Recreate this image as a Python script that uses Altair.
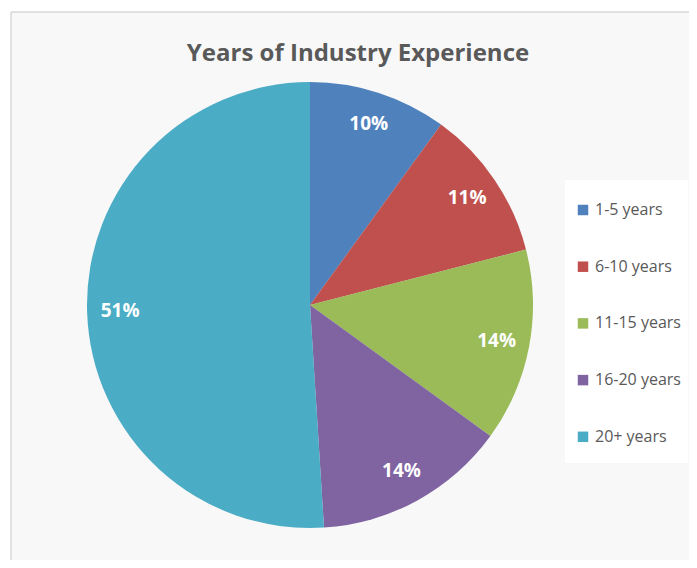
import altair as alt
import pandas as pd

categories = ["1-5 years", "6-10 years", "11-15 years", "16-20 years", "20+ years"]
values = [10, 11, 14, 14, 51]
labels = ["10%", "11%", "14%", "14%", "51%"]
colors = ["#4F81BD", "#C0504D", "#9BBB59", "#8064A2", "#4BACC6"]

df = pd.DataFrame({"category": categories, "value": values, "label": labels,
                   "order": list(range(len(categories)))})

W, H = 678, 548
CX, CY, R = 299, 293, 223

base = alt.Chart(df)

color = alt.Color("category:N",
                  scale=alt.Scale(domain=categories, range=colors),
                  sort=categories,
                  legend=alt.Legend(title=None, orient="none", legendX=564, legendY=190,
                                    symbolType="square", symbolSize=110,
                                    symbolStrokeWidth=0,
                                    labelFontSize=16, labelColor="#595959",
                                    labelFont="Open Sans", labelOffset=4,
                                    rowPadding=40.7, padding=0))

one = pd.DataFrame({"v": [1]})
shadow1 = alt.Chart(one).mark_circle(x=CX, y=CY, size=3.1416 * (R + 7) ** 2,
                                     color="#000000", opacity=0.03)
shadow2 = alt.Chart(one).mark_circle(x=CX, y=CY, size=3.1416 * (R + 3.5) ** 2,
                                     color="#000000", opacity=0.04)

pie = base.mark_arc(x=CX, y=CY, outerRadius=R).encode(
    theta=alt.Theta("value:Q", stack=True),
    color=color,
    order=alt.Order("order:Q"),
)

text = base.mark_text(x=CX, y=CY, radius=190, fontSize=19, fontWeight="bold",
                      font="Open Sans", color="white").encode(
    theta=alt.Theta("value:Q", stack=True),
    order=alt.Order("order:Q"),
    text="label:N",
)

legend_box = alt.Chart(one).mark_rect(color="white").encode(
    x=alt.value(554), x2=alt.value(677), y=alt.value(168), y2=alt.value(451))

border_left = alt.Chart(one).mark_rule(color="#d9d9d9", strokeWidth=1.5).encode(
    x=alt.value(0), y=alt.value(0), y2=alt.value(H))
border_top = alt.Chart(one).mark_rule(color="#d9d9d9", strokeWidth=1.5).encode(
    y=alt.value(0), x=alt.value(0), x2=alt.value(W))

title = alt.Chart(one).mark_text(text="Years of Industry Experience", fontSize=24,
                                 fontWeight="bold", font="Open Sans",
                                 color="#595959", baseline="alphabetic").encode(
    x=alt.value(347), y=alt.value(49))

chart = alt.layer(shadow1, shadow2, pie, text, legend_box, title,
                  border_left, border_top).properties(
    width=W, height=H,
    padding={"left": 3, "top": 4, "right": 0, "bottom": 0},
    autosize=alt.AutoSizeParams(type="none"),
).configure_view(fill="#f8f8f8", stroke=None)

chart.save("out.html", embed_options={"renderer": "svg", "actions": False})
